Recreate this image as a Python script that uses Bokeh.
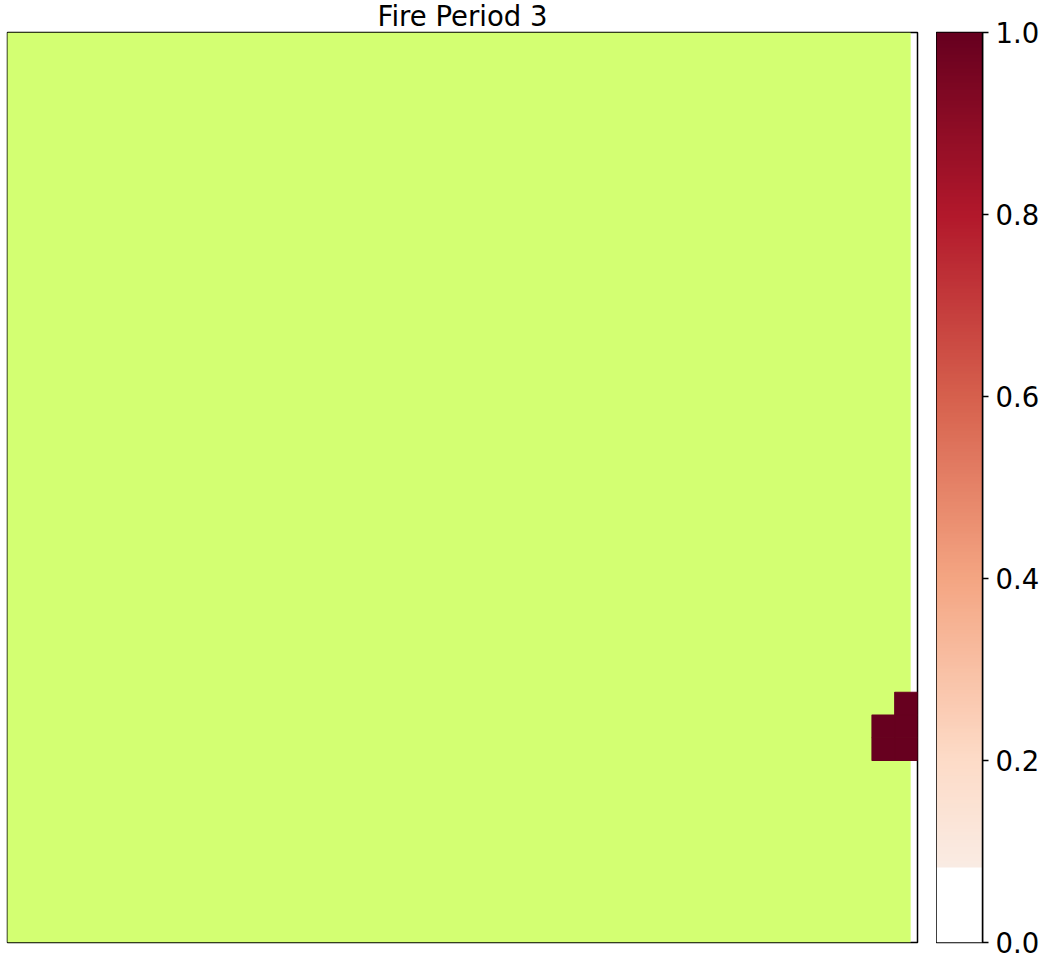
import numpy as np
from bokeh.plotting import figure
from bokeh.layouts import row
from bokeh.models import (LinearColorMapper, Range1d, FixedTicker, PrintfTickFormatter,
                          ColumnDataSource)
from bokeh.transform import transform
from bokeh.embed import file_html
from bokeh.resources import INLINE

# ---- data ----
n_rows = 40
n_cols = 40
fire_rows = [29, 30, 30, 31, 31]
fire_cols = [39, 38, 39, 38, 39]
fire_vals = [1.0, 1.0, 1.0, 1.0, 1.0]
landscape_shift = -0.3          # landscape layer drawn slightly offset
cbar_ticks = [0.0, 0.2, 0.4, 0.6, 0.8, 1.0]
title_text = "Fire Period 3"
landscape_color = "#d3ff72"

# colormap: red half of RdBu (light -> dark), lowest values white
anchors = ["#f7f7f7", "#fddbc7", "#f4a582", "#d6604d", "#b2182b", "#67001f"]


def hex2rgb(h):
    return [int(h[i:i + 2], 16) for i in (1, 3, 5)]


rgb = np.array([hex2rgb(h) for h in anchors], dtype=float)
pos = np.linspace(0, 1, len(anchors))
n_pal = 256
t = np.linspace(0, 1, n_pal)
palette = []
for ti in t:
    r, g, b = (np.interp(ti, pos, rgb[:, k]) for k in range(3))
    palette.append("#%02x%02x%02x" % (int(round(r)), int(round(g)), int(round(b))))
n_white = int(round(n_pal * 0.081))
palette = ["#ffffff"] * n_white + palette[n_white:]
mapper = LinearColorMapper(palette=palette, low=0.0, high=1.0, nan_color=(0, 0, 0, 0))

FONT = "DejaVu Sans"
FS = "27.5px"

# ---- main heatmap ----
p = figure(frame_width=910, frame_height=910, output_backend="svg", toolbar_location=None,
           x_range=Range1d(0, n_cols), y_range=Range1d(0, n_rows),
           x_axis_location=None, y_axis_location=None,
           min_border_left=7, min_border_right=19, min_border_top=32, min_border_bottom=18,
           title=title_text)
p.title.align = "center"
p.title.vertical_align = "top"
p.title.text_font = FONT
p.title.text_font_size = FS
p.title.text_font_style = "normal"
p.title.text_color = "black"
p.title.standoff = -2
p.grid.visible = False
p.outline_line_color = "black"
p.outline_line_width = 1.5
p.background_fill_color = "white"
p.border_fill_color = "white"

p.quad(left=[landscape_shift], right=[n_cols + landscape_shift], bottom=[0], top=[n_rows],
       fill_color=landscape_color, line_color=None)

src = ColumnDataSource(dict(
    x=[c + 0.5 for c in fire_cols],
    y=[n_rows - r - 0.5 for r in fire_rows],
    v=fire_vals,
))
p.rect(x="x", y="y", width=1, height=1, source=src,
       fill_color=transform("v", mapper), line_color=transform("v", mapper), line_width=1.2)

# ---- colorbar ----
cb = figure(frame_width=46, frame_height=910, output_backend="svg", toolbar_location=None,
            x_range=Range1d(0, 1), y_range=Range1d(0, 1),
            x_axis_location=None, y_axis_location="right",
            min_border_left=0, min_border_right=0, min_border_top=32, min_border_bottom=18)
cb.grid.visible = False
cb.outline_line_color = "black"
cb.outline_line_width = 1.5
cb.border_fill_color = "white"
grad = np.linspace(0, 1, 910).reshape(910, 1)
cb.image(image=[grad], x=0, y=0, dw=1, dh=1, color_mapper=mapper)
ax = cb.yaxis[0]
ax.ticker = FixedTicker(ticks=cbar_ticks)
ax.formatter = PrintfTickFormatter(format="%.1f")
ax.major_label_text_font = FONT
ax.major_label_text_font_size = FS
ax.major_label_text_color = "black"
ax.major_tick_out = 6
ax.major_tick_in = 0
ax.minor_tick_out = 0
ax.minor_tick_in = 0
ax.major_tick_line_width = 1.5
ax.major_tick_line_color = "black"
ax.axis_line_color = "black"
ax.axis_line_width = 1.5
ax.major_label_standoff = 7

layout = row(p, cb)
open("out.html", "w").write(file_html(layout, INLINE))
